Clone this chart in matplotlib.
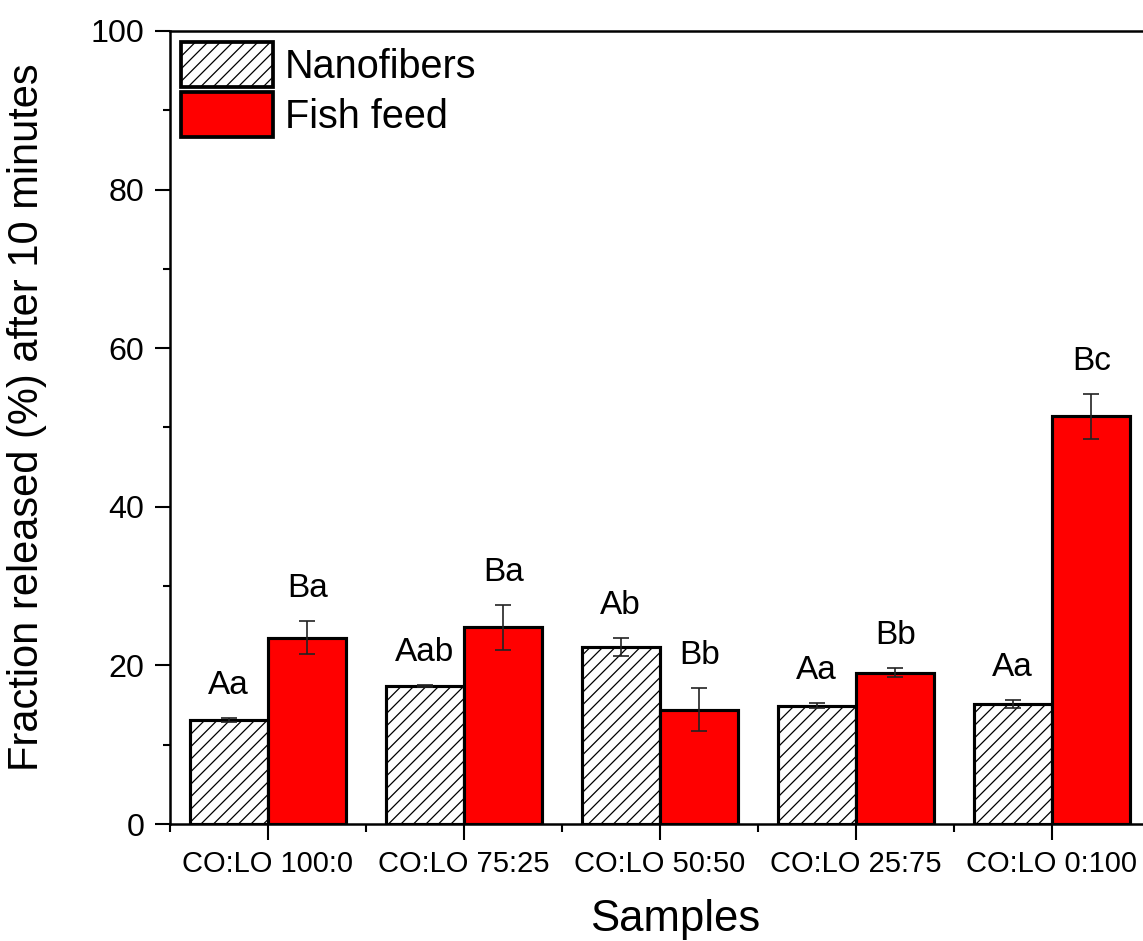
import numpy as np
import matplotlib
matplotlib.use('Agg')
import matplotlib.pyplot as plt
from matplotlib.ticker import MultipleLocator, FixedLocator

plt.rcParams['font.family'] = ['Liberation Sans', 'DejaVu Sans']
plt.rcParams['hatch.linewidth'] = 0.6
plt.rcParams['hatch.color'] = '#3a3a3a'

# datos
samples = ['CO:LO 100:0', 'CO:LO 75:25', 'CO:LO 50:50', 'CO:LO 25:75', 'CO:LO 0:100']
nano = [13.1, 17.4, 22.3, 14.9, 15.1]
nano_err = [0.3, 0.1, 1.1, 0.3, 0.5]
feed = [23.5, 24.8, 14.4, 19.1, 51.4]
feed_err = [2.1, 2.8, 2.7, 0.6, 2.8]
nano_lbl = ['Aa', 'Aab', 'Ab', 'Aa', 'Aa']
feed_lbl = ['Ba', 'Ba', 'Bb', 'Bb', 'Bc']

x = np.arange(1, len(samples) + 1)
w = 0.4

fig = plt.figure(figsize=(1143 / 150, 941 / 150), dpi=150)
ax = fig.add_axes([170 / 1143, 117 / 941, 980 / 1143, 793 / 941])

ax.bar(x - w / 2, nano, w, color='white', edgecolor='black', linewidth=1.5,
       hatch='////', label='Nanofibers', zorder=2)
ax.bar(x + w / 2, feed, w, color='#ff0000', edgecolor='black', linewidth=1.5,
       label='Fish feed', zorder=2)
ax.errorbar(x - w / 2, nano, yerr=nano_err, fmt='none', ecolor='#222222',
            elinewidth=0.8, capsize=4, capthick=0.8, zorder=3)
ax.errorbar(x + w / 2, feed, yerr=feed_err, fmt='none', ecolor='#222222',
            elinewidth=0.8, capsize=4, capthick=0.8, zorder=3)

# letras de significancia
for i in range(len(samples)):
    ax.text(x[i] - w / 2, nano[i] + nano_err[i] + 4.1, nano_lbl[i],
            ha='center', va='center', fontsize=16)
    ax.text(x[i] + w / 2, feed[i] + feed_err[i] + 4.1, feed_lbl[i],
            ha='center', va='center', fontsize=16)

ax.set_xlim(0.5, 5.5)
ax.set_ylim(0, 100)
ax.set_xticks(x)
ax.set_xticklabels(samples, fontsize=14)
ax.xaxis.set_minor_locator(FixedLocator(np.arange(0.5, 6, 1)))
ax.yaxis.set_major_locator(MultipleLocator(20))
ax.yaxis.set_minor_locator(MultipleLocator(10))
ax.tick_params(axis='y', which='major', labelsize=15.5, length=7.2, width=1, pad=5)
ax.tick_params(axis='y', which='minor', length=3.4, width=1)
ax.tick_params(axis='x', which='major', length=7.5, width=1, pad=5)
ax.tick_params(axis='x', which='minor', length=3.8, width=1)

for s in ['left', 'bottom', 'top']:
    ax.spines[s].set_linewidth(1.2)
ax.spines['right'].set_visible(False)

ax.set_ylabel('Fraction released (%) after 10 minutes', fontsize=20)
ax.yaxis.set_label_coords(-0.126, 0.513)
ax.set_xlabel('Samples', fontsize=21)
ax.xaxis.set_label_coords(0.515, -0.095)

leg = ax.legend(loc='upper left', frameon=False, fontsize=19, handlelength=2.32,
                handleheight=1.35, labelspacing=0.15, handletextpad=0.3,
                borderpad=0, borderaxespad=0.28)
for h in leg.legend_handles:
    h.set_linewidth(1.8)

plt.savefig('out.png', dpi=150)
